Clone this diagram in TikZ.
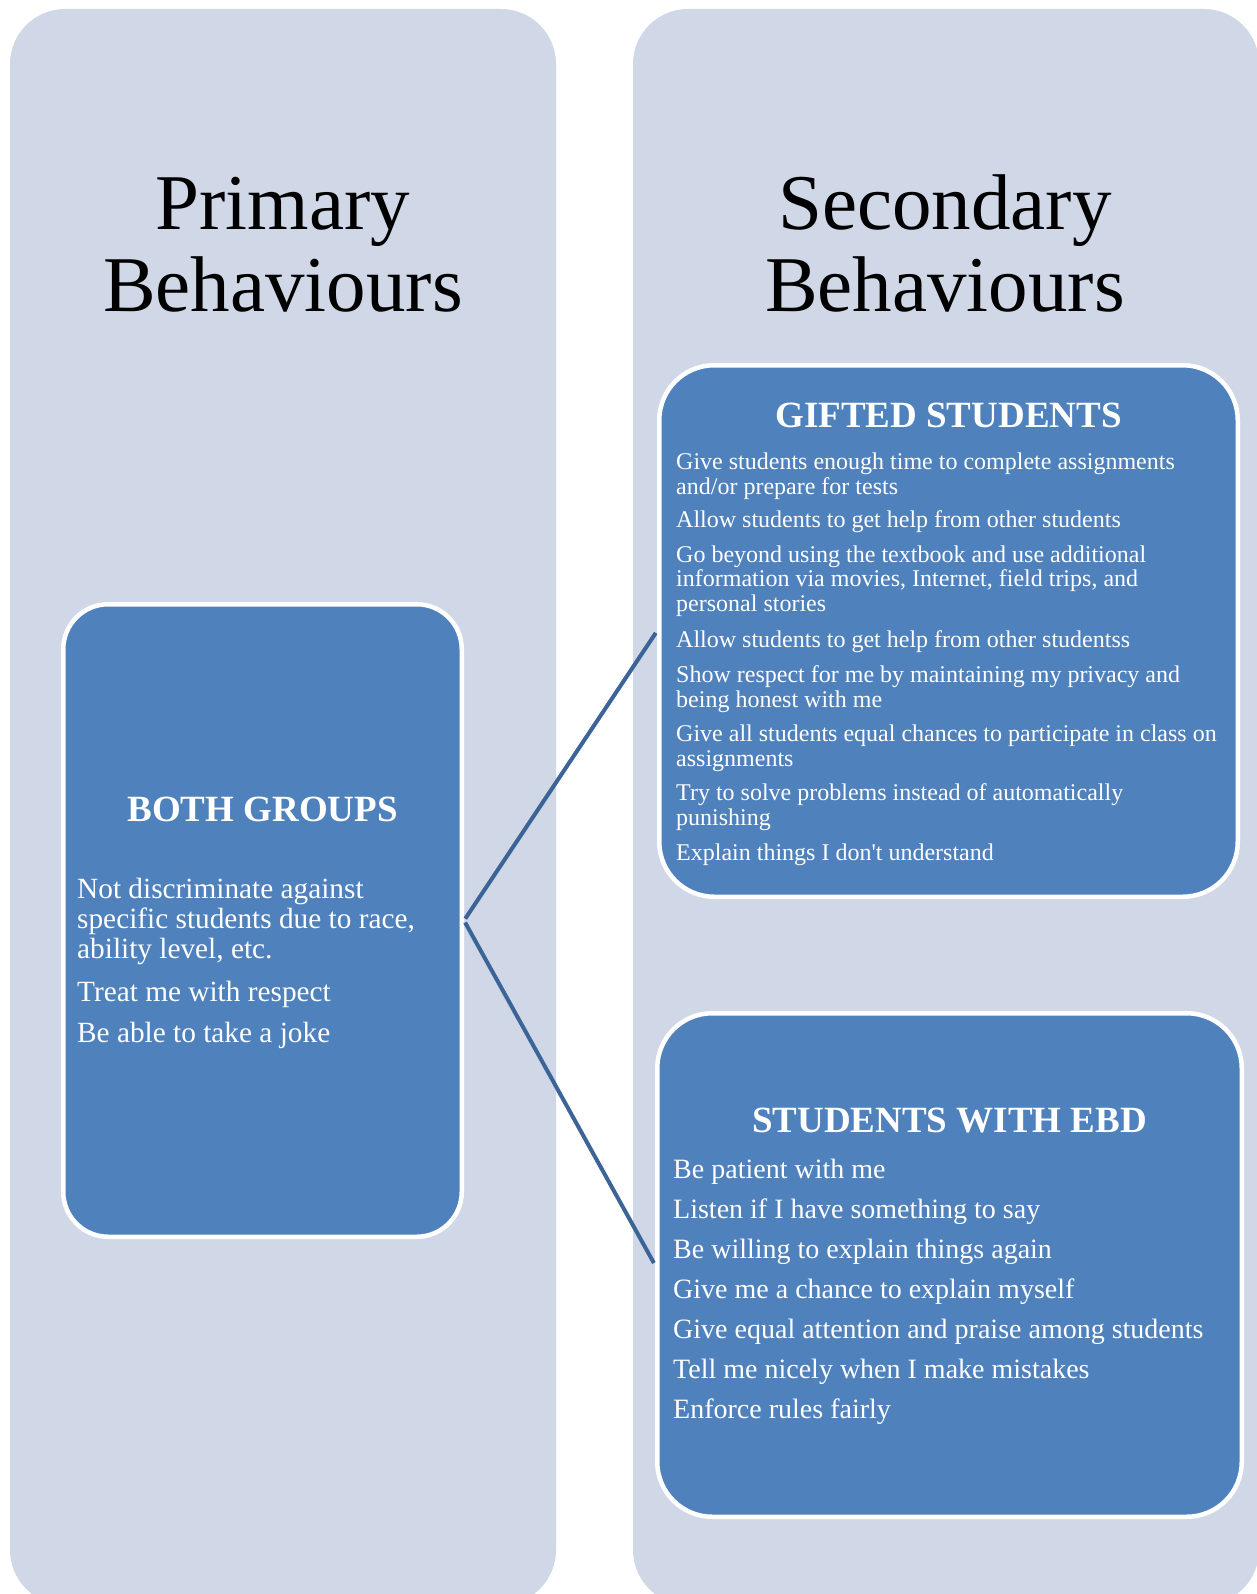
\documentclass[tikz,border=0pt]{standalone}
\usepackage{fontspec}
\setmainfont{Liberation Serif}
\definecolor{panelblue}{HTML}{D0D8E8}
\definecolor{boxblue}{HTML}{4F81BD}
\definecolor{linkblue}{HTML}{3C6497}
\tikzset{
  coltitle/.style={anchor=base,align=center,inner sep=0pt,font=\fontsize{79}{82}\selectfont},
  groupbox/.style={draw=white,line width=4.5pt,fill=boxblue,rounded corners=55pt,inner sep=0pt},
  boxhead/.style={text=white,anchor=base,inner sep=0pt,font=\fontsize{37}{40}\selectfont\bfseries},
  boxitem/.style={text=white,anchor=base west,align=left,inner sep=0pt},
  bothitem/.style={boxitem,font=\fontsize{29.3}{30}\selectfont},
  giftitem/.style={boxitem,font=\fontsize{24}{24.2}\selectfont},
  ebditem/.style={boxitem,font=\fontsize{28}{30}\selectfont},
  link/.style={draw=linkblue,line width=4pt,shorten <=2.25pt,shorten >=2.25pt}
}
\begin{document}
\begin{tikzpicture}[x=1pt,y=-1pt]
\useasboundingbox (0,0) rectangle (1257,1594);
\clip (0,0) rectangle (1257,1594);
% the two columns
\fill[panelblue,rounded corners=55pt] (10,9) rectangle (556,1605);
\fill[panelblue,rounded corners=55pt] (633,9) rectangle (1259,1605);
% multi-line nodes sit on the baseline of their last line
\node[coltitle] (primary) at (283,312) {Primary\\Behaviours};
\node[coltitle] (secondary) at (945,312) {Secondary\\Behaviours};
% boxes
\node[groupbox,rounded corners=45pt,minimum width=398.5pt,minimum height=632.5pt] (both) at (262.5,920.5) {};
\node[groupbox,minimum width=578.5pt,minimum height=531.5pt] (gifted) at (948.5,631) {};
\node[groupbox,minimum width=584.5pt,minimum height=503.5pt] (ebd) at (949.5,1265) {};
\draw[link] (both.east) -- (gifted.west);
\draw[link] (both.east) -- (ebd.west);
% BOTH GROUPS
\node[boxhead] (bothhead) at (262.5,821) {BOTH GROUPS};
\node[bothitem] (both1) at (77,958) {Not discriminate against\\specific students due to race,\\ability level, etc.};
\node[bothitem] (both2) at (77,1001) {Treat me with respect};
\node[bothitem] (both3) at (77,1042) {Be able to take a joke};
% GIFTED STUDENTS
\node[boxhead] (giftedhead) at (948.5,427) {GIFTED STUDENTS};
\node[giftitem] (gift1) at (676,494) {Give students enough time to complete assignments\\and/or prepare for tests};
\node[giftitem] (gift2) at (676,527) {Allow students to get help from other students};
\node[giftitem] (gift3) at (676,611) {Go beyond using the textbook and use additional\\information via movies, Internet, field trips, and\\personal stories};
\node[giftitem] (gift4) at (676,647) {Allow students to get help from other studentss};
\node[giftitem] (gift5) at (676,707) {Show respect for me by maintaining my privacy and\\being honest with me};
\node[giftitem] (gift6) at (676,766) {Give all students equal chances to participate in class on\\assignments};
\node[giftitem] (gift7) at (676,825) {Try to solve problems instead of automatically\\punishing};
\node[giftitem] (gift8) at (676,860) {Explain things I don\textquotesingle t understand};
% STUDENTS WITH EBD
\node[boxhead] (ebdhead) at (949.5,1132) {STUDENTS WITH EBD};
\node[ebditem] (ebd1) at (673,1178) {Be patient with me};
\node[ebditem] (ebd2) at (673,1218) {Listen if I have something to say};
\node[ebditem] (ebd3) at (673,1258) {Be willing to explain things again};
\node[ebditem] (ebd4) at (673,1298) {Give me a chance to explain myself};
\node[ebditem] (ebd5) at (673,1338) {Give equal attention and praise among students};
\node[ebditem] (ebd6) at (673,1378) {Tell me nicely when I make mistakes};
\node[ebditem] (ebd7) at (673,1418) {Enforce rules fairly};
\end{tikzpicture}
\end{document}
